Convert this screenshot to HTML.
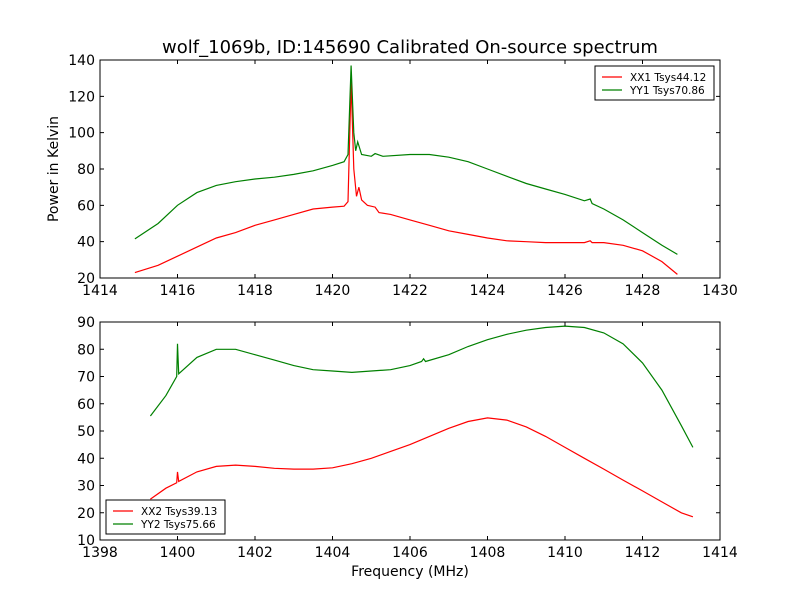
<!DOCTYPE html>
<html><head><meta charset="utf-8"><style>body{margin:0;background:#fff}svg{display:block;font-family:"DejaVu Sans","Liberation Sans",sans-serif}</style></head>
<body>
<svg id="c" width="800" height="600" viewBox="0 0 800 600">
<rect width="800" height="600" fill="#fff"/>
<text x="410" y="53" font-size="18" text-anchor="middle">wolf_1069b, ID:145690 Calibrated On-source spectrum</text>
<text transform="translate(58,169) rotate(-90)" font-size="14" text-anchor="middle">Power in Kelvin</text>
<text x="410" y="576" font-size="14" text-anchor="middle">Frequency (MHz)</text>
<g id="top"></g>
<g id="bot"></g>
</svg>
<script>
const topXTicks=[1414,1416,1418,1420,1422,1424,1426,1428,1430];
const topYTicks=[20,40,60,80,100,120,140];
const botXTicks=[1398,1400,1402,1404,1406,1408,1410,1412,1414];
const botYTicks=[10,20,30,40,50,60,70,80,90];
const xx1F=[1414.9,1415.5,1416,1416.5,1417,1417.5,1418,1418.5,1419,1419.5,1420,1420.3,1420.4,1420.48,1420.55,1420.62,1420.68,1420.75,1420.9,1421.1,1421.2,1421.5,1422,1422.5,1423,1423.5,1424,1424.5,1425,1425.5,1426,1426.5,1426.65,1426.7,1427,1427.5,1428,1428.5,1428.9];
const xx1V=[23,27,32,37,42,45,49,52,55,58,59,59.5,62,128,80,65,70,63,60,59,56,55,52,49,46,44,42,40.5,40,39.5,39.5,39.5,40.5,39.5,39.5,38,35,29,22];
const yy1F=[1414.9,1415.5,1416,1416.5,1417,1417.5,1418,1418.5,1419,1419.5,1420,1420.3,1420.4,1420.48,1420.55,1420.6,1420.65,1420.75,1421,1421.1,1421.3,1422,1422.5,1423,1423.5,1424,1424.5,1425,1425.5,1426,1426.5,1426.65,1426.7,1427,1427.5,1428,1428.5,1428.9];
const yy1V=[41.5,50,60,67,71,73,74.5,75.5,77,79,82,84,88,137,100,90,95,88,87,88.5,87,88,88,86.5,84,80,76,72,69,66,62.5,63.5,61,58,52,45,38,33];
const xx2F=[1399.3,1399.7,1399.98,1400,1400.03,1400.5,1401,1401.5,1402,1402.5,1403,1403.5,1404,1404.5,1405,1405.5,1406,1406.5,1407,1407.5,1408,1408.5,1409,1409.5,1410,1410.5,1411,1411.5,1412,1412.5,1413,1413.3];
const xx2V=[25,29,31,35,31.5,35,37,37.5,37,36.3,36,36,36.5,38,40,42.5,45,48,51,53.5,54.8,54,51.5,48,44,40,36,32,28,24,20,18.5];
const yy2F=[1399.3,1399.7,1399.98,1400,1400.03,1400.5,1401,1401.5,1402,1402.5,1403,1403.5,1404,1404.5,1405,1405.5,1406,1406.3,1406.35,1406.4,1407,1407.5,1408,1408.5,1409,1409.5,1410,1410.5,1411,1411.5,1412,1412.5,1413,1413.3];
const yy2V=[55.5,63,70,82,71,77,80,80,78,76,74,72.5,72,71.5,72,72.5,74,75.5,76.5,75.5,78,81,83.5,85.5,87,88,88.5,88,86,82,75,65,52,44];
const NS="http://www.w3.org/2000/svg";
function mk(p,t,a){const e=document.createElementNS(NS,t);for(const k in a)e.setAttribute(k,a[k]);p.appendChild(e);return e;}
function panel(g,x0,x1,y0,y1,xt,yt,series,leg){
  const L=100,R=720;
  const sx=v=>L+(v-x0)/(x1-x0)*(R-L), sy=v=>y1-(v-yt[0])/(yt[yt.length-1]-yt[0])*(y1-y0);
  series.forEach(s=>{const d=s.f.map((f,i)=>(i?'L':'M')+sx(f).toFixed(1)+','+sy(s.v[i]).toFixed(1)).join('');
    const p=mk(g,'path',{d:d,fill:'none',stroke:s.c,'stroke-width':1.2});
    
    });
  const fr=mk(g,'rect',{x:L,y:y0,width:R-L,height:y1-y0,fill:'none',stroke:'#000','stroke-width':1});
  
  
  xt.forEach(v=>{const x=sx(v);mk(g,'path',{d:`M${x},${y1}v-4M${x},${y0}v4`,stroke:'#000'});
    const t=mk(g,'text',{x:x,y:y1+17,'font-size':14,'text-anchor':'middle'});t.textContent=v;
    
    });
  yt.forEach(v=>{const y=sy(v);mk(g,'path',{d:`M${L},${y}h4M${R},${y}h-4`,stroke:'#000'});
    const t=mk(g,'text',{x:L-5,y:y+5,'font-size':14,'text-anchor':'end'});t.textContent=v;
    
    });
  const lg=mk(g,'g',{});
  
  
  mk(lg,'rect',{x:leg[0],y:leg[1],width:119,height:34,fill:'#fff',stroke:'#000'});
  series.forEach((s,i)=>{const y=leg[1]+11+i*13;mk(lg,'path',{d:`M${leg[0]+7},${y}h20`,stroke:s.c,'stroke-width':1.2});
    const t=mk(lg,'text',{x:leg[0]+35,y:y+4,'font-size':10.5});t.textContent=s.label;
    
    });
}
panel(document.getElementById('top'),1414,1430,60,278,topXTicks,topYTicks,
 [{f:xx1F,v:xx1V,c:'#ff0000',n:'xx1',label:'XX1 Tsys44.12'},{f:yy1F,v:yy1V,c:'#008000',n:'yy1',label:'YY1 Tsys70.86'}],[595,66]);
panel(document.getElementById('bot'),1398,1414,322,540,botXTicks,botYTicks,
 [{f:xx2F,v:xx2V,c:'#ff0000',n:'xx2',label:'XX2 Tsys39.13'},{f:yy2F,v:yy2V,c:'#008000',n:'yy2',label:'YY2 Tsys75.66'}],[106,500]);
</script>
</body></html>
